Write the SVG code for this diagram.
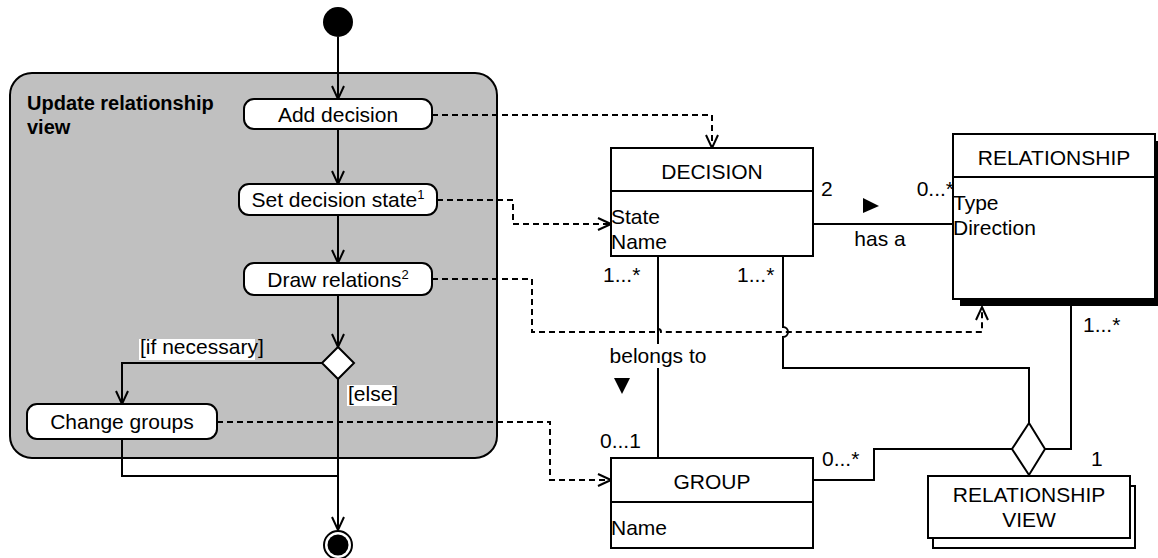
<svg xmlns="http://www.w3.org/2000/svg" width="1158" height="558" viewBox="0 0 1158 558">
  <style>
    text { font-family: "Liberation Sans", Arial, sans-serif; font-size: 21px; fill: #000; }
    .b { font-weight: bold; font-size: 20px; }
    .sup { font-size: 13px; }
    .c { text-anchor: middle; }
    .e { text-anchor: end; }
    .box { fill: #fff; stroke: #000; stroke-width: 2; }
    .act { fill: #fff; stroke: #000; stroke-width: 2; }
    .line { fill: none; stroke: #000; stroke-width: 2; }
    .flow { fill: none; stroke: #000; stroke-width: 2; marker-end: url(#open); }
    .dash { fill: none; stroke: #000; stroke-width: 2; stroke-dasharray: 6 4; }
    .dep { fill: none; stroke: #000; stroke-width: 2; stroke-dasharray: 6 4; marker-end: url(#open); }
    .bg { fill: #fff; }
  </style>
  <defs>
    <marker id="open" markerUnits="userSpaceOnUse" viewBox="0 0 16 14" refX="14" refY="7" markerWidth="16" markerHeight="14" orient="auto">
      <path d="M1,1 L14,7 L1,13" fill="none" stroke="#000" stroke-width="2"/>
    </marker>
  </defs>

  <rect width="1158" height="558" fill="#fff"/>

  <!-- activity partition -->
  <g id="activity">
    <rect x="10" y="73" width="487" height="385" rx="22" fill="#c0c0c0" stroke="#000" stroke-width="2"/>
    <text class="b" x="27" y="110">Update relationship</text>
    <text class="b" x="27" y="134">view</text>
  </g>

  <g id="connectors">
    <!-- control flow -->
    <path class="flow" d="M338,37 V99"/>
    <path class="flow" d="M338,129 V184"/>
    <path class="flow" d="M338,215 V263"/>
    <path class="flow" d="M338,295 V347"/>
    <path class="flow" d="M323,363 H122 V404"/>
    <path class="flow" d="M338,379 V530"/>
    <path class="line" d="M122,439 V476 H338"/>

    <!-- dependencies -->
    <path class="dep" d="M432,115 H712 V148"/>
    <path class="dep" d="M437,200 H513 V224 H611"/>
    <path class="dep" d="M432,279 H532 V332 H655 a3,3 0 0 1 6,0 H982 V307"/>
    <path class="dep" d="M217,422 H550 V480 H611"/>

    <!-- associations -->
    <path class="line" d="M813,224 H953"/>
    <path class="line" d="M658,256 V458"/>
    <path class="line" d="M783,256 V327 a5,5 0 0 1 0,10 V368 H1029 V423"/>
    <path class="line" d="M1045,449 H1071 V300"/>
    <path class="line" d="M813,480 H874 V449 H1012"/>
  </g>

  <!-- connector labels -->
  <g id="labels">
    <rect class="bg" x="139" y="339" width="116" height="21"/>
    <text x="140" y="354">[if necessary]</text>
    <rect class="bg" x="347" y="385" width="49" height="21"/>
    <text x="348" y="401">[else]</text>

    <text x="821" y="196">2</text>
    <text class="e" x="954" y="196">0...*</text>
    <polygon points="863,198 879,206 863,213" fill="#000"/>
    <text class="c" x="880" y="246">has a</text>

    <text x="603" y="282">1...*</text>
    <text x="737" y="282">1...*</text>
    <rect class="bg" x="612" y="344" width="92" height="24"/>
    <text class="c" x="658" y="363">belongs to</text>
    <polygon points="614,378 630,378 622,394" fill="#000"/>
    <text x="600" y="448">0...1</text>
    <text x="822" y="466">0...*</text>
    <text x="1083" y="332">1...*</text>
    <text x="1091" y="466">1</text>
  </g>

  <g id="start">
    <circle cx="338" cy="22" r="15" fill="#000"/>
  </g>

  <g id="add-decision">
    <rect class="act" x="244" y="99" width="188" height="30" rx="10"/>
    <text class="c" x="338" y="122">Add decision</text>
  </g>

  <g id="set-decision-state">
    <rect class="act" x="239" y="184" width="198" height="31" rx="10"/>
    <text class="c" x="338" y="207">Set decision state<tspan class="sup" dy="-8">1</tspan></text>
  </g>

  <g id="draw-relations">
    <rect class="act" x="244" y="263" width="188" height="32" rx="10"/>
    <text class="c" x="338" y="287">Draw relations<tspan class="sup" dy="-8">2</tspan></text>
  </g>

  <g id="decision">
    <polygon points="338,347 354,363 338,379 322,363" fill="#fff" stroke="#000" stroke-width="2"/>
  </g>

  <g id="change-groups">
    <rect class="act" x="27" y="404" width="190" height="35" rx="10"/>
    <text class="c" x="122" y="429">Change groups</text>
  </g>

  <g id="end">
    <circle cx="338" cy="545" r="14" fill="#fff" stroke="#000" stroke-width="2"/>
    <circle cx="338" cy="545" r="10.5" fill="#000"/>
  </g>

  <g id="class-decision">
    <rect class="box" x="611" y="148" width="202" height="108"/>
    <line x1="611" y1="191" x2="813" y2="191" stroke="#000" stroke-width="2"/>
    <text class="c" x="712" y="179">DECISION</text>
    <text x="611" y="224">State</text>
    <text x="611" y="249">Name</text>
  </g>

  <g id="class-relationship">
    <rect x="960" y="141" width="202" height="165" fill="#000"/>
    <rect class="box" x="953" y="134" width="202" height="165"/>
    <line x1="953" y1="177" x2="1155" y2="177" stroke="#000" stroke-width="2"/>
    <text class="c" x="1054" y="165">RELATIONSHIP</text>
    <text x="953" y="210">Type</text>
    <text x="953" y="235">Direction</text>
  </g>

  <g id="class-group">
    <rect class="box" x="611" y="458" width="202" height="90"/>
    <line x1="611" y1="502" x2="813" y2="502" stroke="#000" stroke-width="2"/>
    <text class="c" x="712" y="489">GROUP</text>
    <text x="611" y="535">Name</text>
  </g>

  <g id="class-relationship-view">
    <rect class="box" x="933" y="486" width="202" height="62"/>
    <rect class="box" x="928" y="476" width="202" height="62"/>
    <text class="c" x="1029" y="502">RELATIONSHIP</text>
    <text class="c" x="1029" y="527">VIEW</text>
  </g>

  <g id="aggregation">
    <polygon points="1029,423 1045,449 1029,475 1012,449" fill="#fff" stroke="#000" stroke-width="2"/>
  </g>
</svg>
